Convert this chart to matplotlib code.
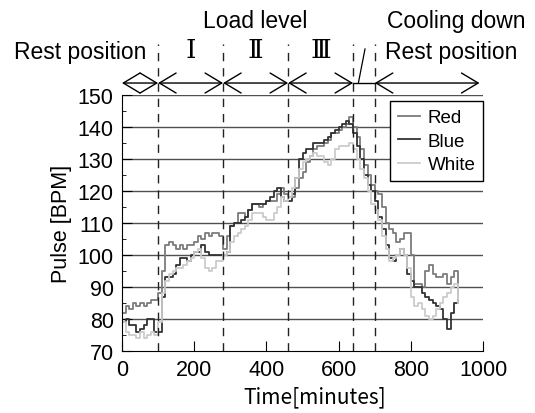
import numpy as np
import matplotlib
matplotlib.use("Agg")
import matplotlib.pyplot as plt
import matplotlib.transforms as mtransforms

time_min = list(range(0, 940, 10))
red = [82, 84, 83, 85, 84, 85, 84, 85, 86, 86,
       88, 95, 103, 104, 103, 102, 103, 102, 103, 103,
       104, 106, 105, 107, 106, 107, 107, 106, 102, 106,
       109, 110, 113, 113, 112, 114, 116, 116, 115, 116,
       117, 117, 117, 119, 121, 119, 118, 118, 121, 124,
       126, 129, 131, 133, 134, 134, 135, 136, 138, 138,
       139, 140, 141, 143, 140, 137, 133, 128, 125, 122,
       120, 119, 115, 110, 108, 107, 104, 105, 107, 107,
       100, 91, 91, 90, 95, 97, 94, 93, 93, 94,
       91, 93, 95, 87]
blue = [79, 80, 78, 78, 76, 77, 78, 80, 80, 76,
        76, 87, 93, 93, 94, 97, 99, 99, 98, 100,
        101, 101, 103, 101, 100, 100, 100, 100, 100, 101,
        109, 110, 110, 111, 112, 114, 116, 116, 116, 116,
        117, 118, 120, 121, 118, 117, 117, 119, 124, 130,
        132, 133, 133, 135, 135, 135, 136, 137, 138, 139,
        140, 141, 142, 141, 138, 134, 130, 125, 122, 120,
        117, 112, 108, 103, 99, 98, 100, 102, 100, 94,
        92, 90, 90, 88, 87, 86, 85, 84, 83, 80,
        77, 82, 85, 86]
white = [79, 76, 75, 75, 74, 76, 74, 75, 76, 75,
         79, 88, 92, 94, 95, 96, 96, 97, 98, 99,
         101, 102, 99, 96, 95, 96, 98, 98, 100, 101,
         104, 106, 107, 108, 109, 111, 113, 113, 113, 112,
         111, 111, 113, 115, 118, 117, 118, 121, 124, 127,
         129, 130, 131, 132, 131, 131, 129, 128, 130, 133,
         134, 134, 134, 135, 133, 130, 127, 124, 120, 116,
         114, 111, 106, 102, 98, 99, 100, 102, 100, 96,
         87, 84, 85, 83, 81, 80, 81, 83, 85, 87,
         88, 90, 91, 85]

series_names = ["Red", "Blue", "White"]
series_colors = ["#7c7c7c", "#333333", "#cccccc"]
boundaries = [100, 280, 460, 640, 700]
x_ticks = [0, 200, 400, 600, 800, 1000]
y_ticks = [70, 80, 90, 100, 110, 120, 130, 140, 150]

plt.rcParams['font.family'] = ['Liberation Sans', 'DejaVu Sans']

fig = plt.figure(figsize=(5.35, 4.14), dpi=100)
ax = fig.add_axes([0.228, 0.150, 0.675, 0.618])

for vals, name, col in zip([red, blue, white], series_names, series_colors):
    ax.plot(time_min, vals, drawstyle='steps-post', color=col, lw=1.3, label=name)

ax.set_xlim(0, 1000)
ax.set_ylim(70, 150)
ax.set_xticks(x_ticks)
ax.set_yticks(y_ticks)
ax.set_yticks(np.arange(75, 150, 10), minor=True)
for yv in y_ticks[1:]:
    ax.axhline(yv, color='#505050', lw=1.0, zorder=0)
ax.tick_params(axis='both', which='major', direction='in', labelsize=15.5, length=7)
ax.tick_params(axis='y', which='minor', direction='in', length=3)
ax.tick_params(axis='x', pad=6)
ax.tick_params(axis='y', pad=6)
ax.spines['top'].set_visible(False)
ax.spines['right'].set_visible(False)

ax.set_ylabel("Pulse [BPM]", fontsize=15.5, labelpad=4)
ax.set_xlabel("Time[minutes]", fontsize=15, family=['Noto Sans CJK JP', 'DejaVu Sans'])
ax.xaxis.set_label_coords(0.535, -0.135)

trans = mtransforms.blended_transform_factory(ax.transData, ax.transAxes)

# dashed boundary lines
for b in boundaries:
    ax.plot([b, b], [0, 1.2], transform=trans, clip_on=False, color='#222222',
            lw=1.0, dashes=(6, 5))

# arrow line
yarr = 1.047
segs = [(0, 100), (100, 280), (280, 460), (460, 640), (700, 990)]
for a, b in segs:
    ax.annotate('', xy=(b, yarr), xytext=(a, yarr), xycoords=trans, textcoords=trans,
                arrowprops=dict(arrowstyle='<->,head_length=1.0,head_width=0.6',
                                color='black', lw=1.0, shrinkA=0, shrinkB=0,
                                mutation_scale=12), annotation_clip=False)
ax.plot([640, 700], [yarr, yarr], transform=trans, clip_on=False, color='black', lw=1.0)

# header texts
ax.text(68, 1.172, "Rest position", transform=trans, ha='right', va='center', fontsize=16.5)
ax.text(728, 1.172, "Rest position", transform=trans, ha='left', va='center', fontsize=16.5)
for lab, xp in zip(["Ⅰ", "Ⅱ", "Ⅲ"], [190, 370, 550]):
    ax.text(xp, 1.172, lab, transform=trans, ha='center', va='center', fontsize=19,
            family=['Liberation Serif', 'DejaVu Serif'])
ax.text(368, 1.29, "Load level", transform=trans, ha='center', va='center', fontsize=16.5)
ax.text(925, 1.29, "Cooling down", transform=trans, ha='center', va='center', fontsize=16.5)
ax.plot([673, 655], [1.18, 1.05], transform=trans, clip_on=False, color='black', lw=0.9)

leg = ax.legend(loc='upper right', bbox_to_anchor=(1.0, 0.975), borderaxespad=0,
                fontsize=13.5, handlelength=1.2, handletextpad=0.4, labelspacing=0.35,
                fancybox=False, edgecolor='black', framealpha=1, borderpad=0.4)
leg.get_frame().set_linewidth(1.0)

fig.savefig("out.png", dpi=100)
